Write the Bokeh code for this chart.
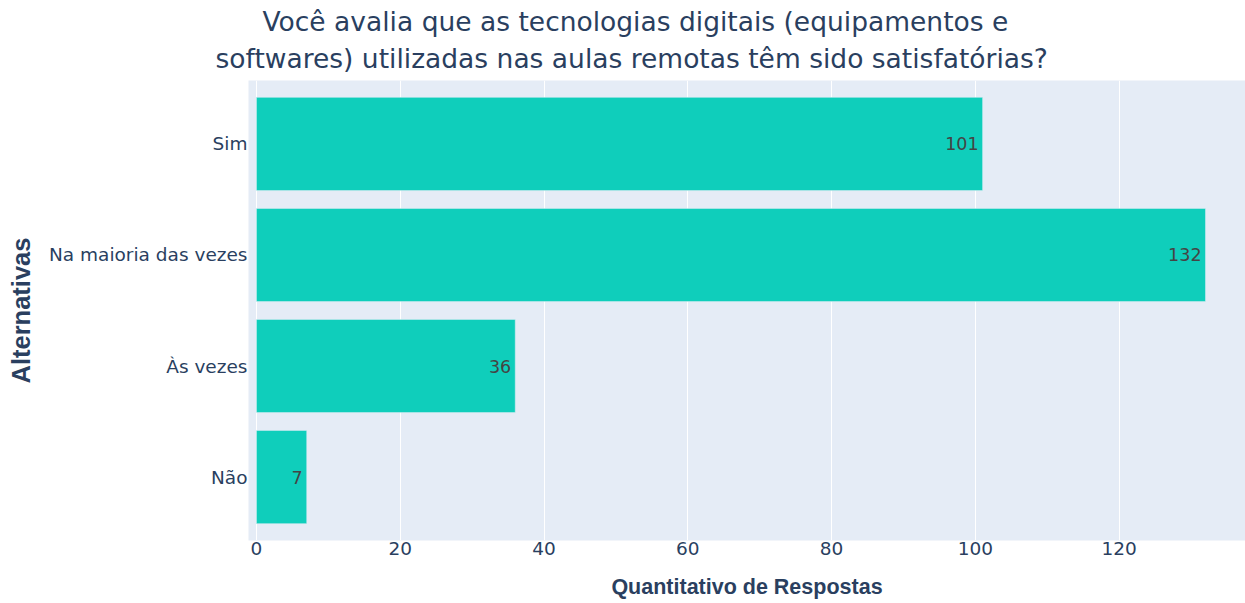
from bokeh.plotting import figure
from bokeh.models import FactorRange, Range1d, Title, ColumnDataSource, FixedTicker
from bokeh.core.properties import value
from bokeh.embed import file_html
from bokeh.resources import INLINE

# data
categories = ["Sim", "Na maioria das vezes", "Às vezes", "Não"]
counts = [101, 132, 36, 7]
x_ticks = [0, 20, 40, 60, 80, 100, 120]
title_lines = ["Você avalia que as tecnologias digitais (equipamentos e",
               "softwares) utilizadas nas aulas remotas têm sido satisfatórias?"]

FONT = "DejaVu Sans"
BOLD = "Liberation Sans"
TXT = "#2a3f5f"
BG = "#E5ECF6"
BAR = "#0FCEBB"

src = ColumnDataSource(dict(cat=categories, n=counts, lbl=[str(v) for v in counts]))

p = figure(width=1245, height=603, output_backend="svg", toolbar_location=None,
           y_range=FactorRange(factors=categories[::-1], range_padding=0.072,
                               range_padding_units="absolute"),
           x_range=Range1d(-1.1, 137.56),
           min_border_left=248, min_border_right=0, min_border_top=80, min_border_bottom=63)
p.title_location = None
p.background_fill_color = BG
p.border_fill_color = "white"
p.outline_line_color = None

p.hbar(y="cat", right="n", left=0, height=0.84, source=src,
       fill_color=BAR, line_color=BG, line_width=0.5)
p.text(x="n", y="cat", text="lbl", source=src, x_offset=-4,
       text_align="right", text_baseline="middle",
       text_font=value(FONT), text_font_size="17.5px", text_color="#444444")

# grid
p.ygrid.grid_line_color = None
p.xgrid.grid_line_color = "white"
p.xgrid.grid_line_width = 1
p.xaxis.ticker = FixedTicker(ticks=x_ticks)
p.xgrid.ticker = FixedTicker(ticks=x_ticks)

for ax in (p.xaxis[0], p.yaxis[0]):
    ax.axis_line_color = None
    ax.major_tick_line_color = None
    ax.minor_tick_line_color = None
    ax.major_tick_out = 0
    ax.major_tick_in = 0
    ax.major_label_text_font = FONT
    ax.major_label_text_font_size = "18.5px"
    ax.major_label_text_color = TXT
    ax.axis_label_text_font = BOLD
    ax.axis_label_text_font_style = "bold"
    ax.axis_label_text_color = TXT

p.xaxis.axis_label = "Quantitativo de Respostas"
p.yaxis.axis_label = "Alternativas"
p.xaxis.axis_label_text_font_size = "21.5px"
p.yaxis.axis_label_text_font_size = "25.5px"
p.xaxis.major_label_standoff = 1
p.xaxis.axis_label_standoff = 17
p.yaxis.major_label_standoff = 1
p.yaxis.axis_label_standoff = 11

p.add_layout(Title(text=title_lines[1], align="left", offset=-33, standoff=14,
                   text_font=FONT, text_font_size="26.5px", text_font_style="normal",
                   text_color=TXT), "above")
p.add_layout(Title(text=title_lines[0], align="left", offset=14, standoff=-6,
                   text_font=FONT, text_font_size="26.5px", text_font_style="normal",
                   text_color=TXT), "above")

open("out.html", "w").write(file_html(p, INLINE))
